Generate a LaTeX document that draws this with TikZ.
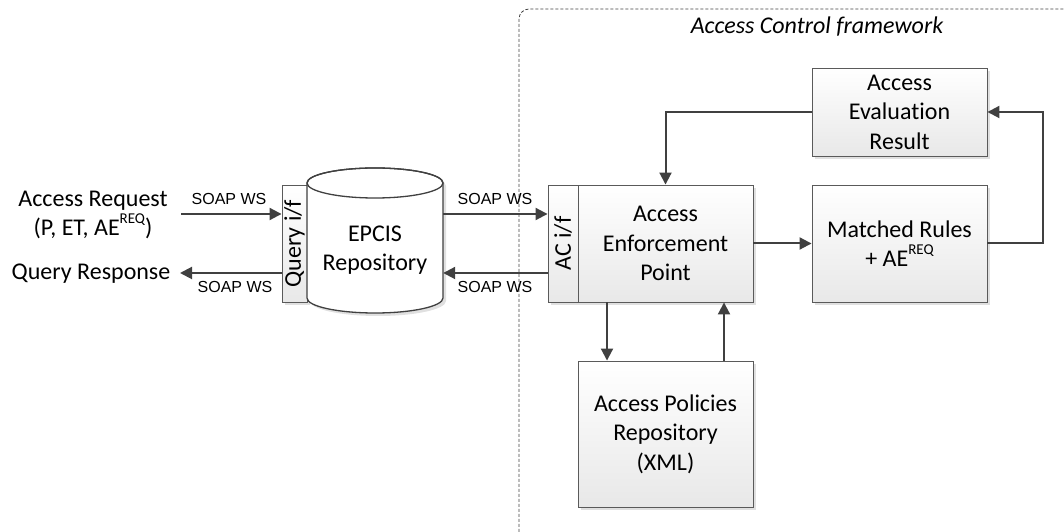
\documentclass[tikz,border=0pt]{standalone}
\usepackage{fontspec}
\setmainfont[Ligatures=NoCommon]{Carlito}
\newfontfamily\arialf{Liberation Sans}
\usetikzlibrary{arrows.meta,shadows}
\definecolor{linec}{HTML}{404040}
\definecolor{borderc}{HTML}{5A5A5A}
\newcommand\reqsup{\raisebox{0.5em}{\fontsize{15}{15}\selectfont REQ}}
\begin{document}
\begin{tikzpicture}[x=1pt,y=1pt,
  box/.style={draw=borderc, line width=0.9pt, top color=white, bottom color=black!9,
    general shadow={fill=black!12, shadow xshift=3pt, shadow yshift=-3pt},
    font=\fontsize{24}{29.5}\selectfont, align=center, inner sep=0pt},
  txt/.style={font=\fontsize{24}{29.5}\selectfont, align=center, inner sep=0pt},
  arr/.style={draw=linec, line width=2pt, -{Triangle[length=12pt,width=12pt]}},
  soap/.style={font=\arialf\fontsize{16}{18}\selectfont, inner sep=0pt}]
\useasboundingbox (0,0) rectangle (1064,532);
% frame
\draw[draw=linec, line width=0.8pt, dash pattern=on 3pt off 2pt, rounded corners=10pt] (519,0) -- (519,523) -- (1064,523);
\node[font=\itshape\fontsize{24}{29.5}\selectfont] (title) at (817,505) {Access Control framework};
% boxes
\node[box, minimum width=175pt, minimum height=88pt] (aer) at (899.5,420) {Access\\Evaluation\\Result};
\node[box, minimum width=175pt, minimum height=117pt] (mr) at (899.5,288.5) {Matched Rules\\+ AE\reqsup};
\node[box, minimum width=30pt, minimum height=117pt] (acif) at (563,288.5) {\rotatebox{90}{AC i/f}};
\node[box, minimum width=175pt, minimum height=117pt] (aep) at (665.5,288.5) {Access\\Enforcement\\Point};
\node[box, minimum width=175pt, minimum height=146pt] (apr) at (665.5,98) {Access Policies\\Repository\\(XML)};
\node[box, minimum width=25pt, minimum height=117pt] (qif) at (294.5,288.5) {\rotatebox{90}{Query i/f}};
% cylinder
\draw[draw=linec, line width=1.3pt, fill=white,
  general shadow={fill=black!12, shadow xshift=3pt, shadow yshift=-3pt}]
  (307,349) -- (307,234) arc[start angle=180, end angle=360, x radius=68, y radius=15]
  -- (443,349) arc[start angle=0, end angle=180, x radius=68, y radius=15] -- cycle;
\draw[draw=linec, line width=1.3pt] (375,349) ellipse [x radius=68, y radius=15];
\node[minimum width=136pt, minimum height=145pt, inner sep=0pt] (epcis) at (375,291.5) {};
\node[txt] (epcislabel) at (375,282) {EPCIS\\Repository};
% left texts
\node[txt] (req) at (93,317) {Access Request\\(P, ET, AE\reqsup)};
\node[txt] (resp) at (91,258) {Query Response};
% connectors
\coordinate (reqstart) at (181,318);
\coordinate (respend) at (180,259);
\coordinate (dnx) at (607,0);
\coordinate (upx) at (724,0);
\draw[arr] (reqstart) -- (qif.west |- reqstart);
\draw[arr] (qif.west |- respend) -- (respend);
\draw[arr] (epcis.east |- reqstart) -- (acif.west |- reqstart);
\draw[arr] (acif.west |- respend) -- (epcis.east |- respend);
\draw[arr] (aer.west) -| (aep.north);
\draw[arr] (aep.east) -- (mr.west);
\draw[arr] (mr.east) -- ++(56,0) |- (aer.east);
\draw[arr] (aep.south -| dnx) -- (apr.north -| dnx);
\draw[arr] (apr.north -| upx) -- (aep.south -| upx);
% labels
\node[soap] (s1) at (229,333) {SOAP WS};
\node[soap] (s2) at (235,245) {SOAP WS};
\node[soap] (s3) at (495,333) {SOAP WS};
\node[soap] (s4) at (495,245) {SOAP WS};
\end{tikzpicture}
\end{document}
